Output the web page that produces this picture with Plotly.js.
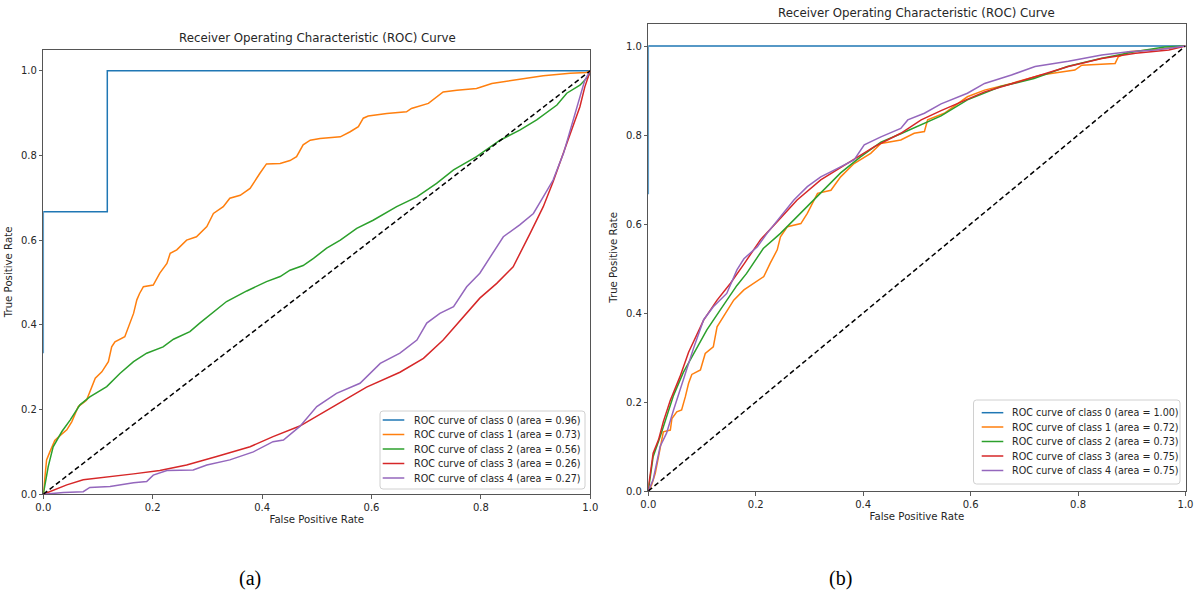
<!DOCTYPE html>
<html>
<head>
<meta charset="utf-8">
<script src="https://cdn.plot.ly/plotly-3.0.1.min.js"></script>
<style>
  html, body { margin: 0; padding: 0; background: #fff; }
  #chart { width: 1200px; height: 603px; }
</style>
</head>
<body>
<div id="chart"></div>
<script>
// ---------- Panel (a): ROC curves per class ----------
const fprA0 = [0, 0, 0.117, 0.117, 1];
const tprA0 = [0.333, 0.667, 0.667, 1, 1];

const fprA1 = [0, 0.006, 0.012, 0.021, 0.031, 0.043, 0.052, 0.064, 0.079, 0.095, 0.107, 0.119, 0.125, 0.131, 0.149, 0.155, 0.165, 0.171, 0.176, 0.183, 0.201, 0.213, 0.226, 0.232, 0.244, 0.262, 0.280, 0.299, 0.311, 0.329, 0.341, 0.360, 0.378, 0.396, 0.408, 0.433, 0.451, 0.463, 0.475, 0.488, 0.506, 0.543, 0.561, 0.576, 0.585, 0.594, 0.628, 0.664, 0.673, 0.704, 0.719, 0.731, 0.756, 0.792, 0.820, 0.865, 0.914, 0.963, 0.993, 1];
const tprA1 = [0, 0.081, 0.100, 0.127, 0.139, 0.152, 0.171, 0.207, 0.222, 0.274, 0.289, 0.313, 0.348, 0.360, 0.372, 0.392, 0.427, 0.459, 0.474, 0.490, 0.494, 0.522, 0.545, 0.569, 0.577, 0.600, 0.608, 0.632, 0.663, 0.679, 0.699, 0.706, 0.722, 0.758, 0.780, 0.781, 0.788, 0.797, 0.825, 0.836, 0.840, 0.844, 0.856, 0.868, 0.888, 0.893, 0.899, 0.903, 0.911, 0.923, 0.939, 0.950, 0.954, 0.958, 0.970, 0.978, 0.988, 0.994, 0.996, 1];

const fprA2 = [0, 0.009, 0.018, 0.034, 0.049, 0.067, 0.085, 0.116, 0.140, 0.165, 0.189, 0.219, 0.238, 0.268, 0.286, 0.311, 0.335, 0.372, 0.408, 0.433, 0.451, 0.475, 0.494, 0.518, 0.543, 0.573, 0.603, 0.646, 0.683, 0.719, 0.750, 0.792, 0.835, 0.871, 0.902, 0.939, 0.957, 0.981, 0.996, 1];
const tprA2 = [0, 0.065, 0.112, 0.148, 0.175, 0.211, 0.230, 0.254, 0.285, 0.313, 0.333, 0.348, 0.366, 0.384, 0.404, 0.430, 0.455, 0.480, 0.502, 0.514, 0.529, 0.540, 0.557, 0.581, 0.600, 0.628, 0.647, 0.679, 0.702, 0.734, 0.766, 0.797, 0.836, 0.860, 0.884, 0.919, 0.947, 0.966, 0.986, 1];

const fprA3 = [0, 0.018, 0.043, 0.073, 0.122, 0.165, 0.213, 0.262, 0.317, 0.378, 0.420, 0.469, 0.530, 0.591, 0.652, 0.695, 0.731, 0.768, 0.798, 0.829, 0.859, 0.890, 0.914, 0.932, 0.951, 0.969, 0.981, 0.990, 1];
const tprA3 = [0, 0.010, 0.022, 0.034, 0.041, 0.048, 0.056, 0.069, 0.089, 0.112, 0.136, 0.161, 0.207, 0.253, 0.288, 0.321, 0.364, 0.419, 0.463, 0.498, 0.537, 0.616, 0.679, 0.738, 0.805, 0.868, 0.915, 0.962, 1];

const fprA4 = [0, 0.037, 0.073, 0.085, 0.122, 0.165, 0.189, 0.201, 0.226, 0.274, 0.299, 0.341, 0.384, 0.420, 0.439, 0.469, 0.500, 0.536, 0.579, 0.616, 0.652, 0.683, 0.701, 0.725, 0.750, 0.774, 0.798, 0.817, 0.841, 0.871, 0.896, 0.914, 0.932, 0.951, 0.969, 0.981, 0.990, 1];
const tprA4 = [0, 0.004, 0.006, 0.016, 0.018, 0.027, 0.030, 0.045, 0.056, 0.057, 0.069, 0.081, 0.100, 0.124, 0.128, 0.160, 0.207, 0.238, 0.262, 0.309, 0.333, 0.364, 0.404, 0.427, 0.443, 0.490, 0.522, 0.561, 0.608, 0.636, 0.663, 0.702, 0.742, 0.805, 0.884, 0.939, 0.978, 1];

// ---------- Panel (b): ROC curves per class ----------
const fprB0 = [0, 0, 1];
const tprB0 = [0.667, 1, 1];

const fprB1 = [0, 0.006, 0.013, 0.022, 0.028, 0.041, 0.044, 0.053, 0.062, 0.069, 0.075, 0.081, 0.097, 0.106, 0.121, 0.128, 0.140, 0.159, 0.178, 0.196, 0.215, 0.227, 0.240, 0.246, 0.259, 0.284, 0.296, 0.315, 0.340, 0.358, 0.383, 0.414, 0.433, 0.470, 0.495, 0.514, 0.520, 0.551, 0.594, 0.626, 0.676, 0.731, 0.794, 0.807, 0.869, 0.875, 0.894, 0.950, 1];
const tprB1 = [0, 0.013, 0.040, 0.100, 0.133, 0.137, 0.163, 0.178, 0.182, 0.212, 0.242, 0.262, 0.272, 0.309, 0.324, 0.369, 0.392, 0.429, 0.452, 0.467, 0.482, 0.512, 0.542, 0.571, 0.594, 0.601, 0.624, 0.669, 0.676, 0.706, 0.736, 0.759, 0.781, 0.789, 0.804, 0.808, 0.834, 0.849, 0.886, 0.901, 0.916, 0.935, 0.946, 0.957, 0.961, 0.976, 0.987, 0.993, 1];

const fprB2 = [0, 0.009, 0.022, 0.034, 0.047, 0.065, 0.090, 0.109, 0.134, 0.165, 0.183, 0.214, 0.246, 0.283, 0.321, 0.358, 0.395, 0.433, 0.470, 0.520, 0.545, 0.594, 0.656, 0.718, 0.780, 0.842, 0.905, 0.961, 1];
const tprB2 = [0, 0.077, 0.122, 0.167, 0.215, 0.266, 0.320, 0.362, 0.407, 0.462, 0.489, 0.545, 0.579, 0.624, 0.669, 0.715, 0.751, 0.784, 0.803, 0.830, 0.843, 0.879, 0.909, 0.927, 0.954, 0.972, 0.987, 0.998, 1];

const fprB3 = [0, 0, 0.003, 0.009, 0.019, 0.028, 0.041, 0.059, 0.075, 0.103, 0.128, 0.153, 0.178, 0.209, 0.240, 0.277, 0.321, 0.371, 0.421, 0.470, 0.508, 0.545, 0.626, 0.720, 0.782, 0.844, 0.907, 0.969, 1];
const tprB3 = [0, 0.010, 0.032, 0.085, 0.115, 0.156, 0.204, 0.257, 0.312, 0.384, 0.429, 0.467, 0.510, 0.565, 0.605, 0.654, 0.699, 0.736, 0.774, 0.804, 0.834, 0.855, 0.897, 0.931, 0.954, 0.972, 0.984, 0.991, 1];

const fprB4 = [0, 0.009, 0.022, 0.034, 0.047, 0.059, 0.072, 0.084, 0.103, 0.121, 0.146, 0.165, 0.178, 0.203, 0.221, 0.246, 0.271, 0.296, 0.321, 0.346, 0.383, 0.402, 0.433, 0.470, 0.483, 0.514, 0.545, 0.594, 0.626, 0.676, 0.720, 0.782, 0.844, 0.894, 0.944, 1];
const tprB4 = [0, 0.025, 0.100, 0.130, 0.182, 0.227, 0.279, 0.320, 0.385, 0.414, 0.444, 0.497, 0.522, 0.549, 0.579, 0.616, 0.654, 0.684, 0.706, 0.721, 0.744, 0.778, 0.796, 0.815, 0.834, 0.849, 0.870, 0.894, 0.916, 0.935, 0.954, 0.966, 0.980, 0.987, 0.991, 1];

// Chance line
const chanceX = [0, 1];
const chanceY = [0, 1];

// Class names and AUC values shown in the legends
const classIds = [0, 1, 2, 3, 4];
const aucA = ['0.96', '0.73', '0.56', '0.26', '0.27'];
const aucB = ['1.00', '0.72', '0.73', '0.75', '0.75'];
const classColors = ['#1f77b4', '#ff7f0e', '#2ca02c', '#d62728', '#9467bd'];

const titleText = 'Receiver Operating Characteristic (ROC) Curve';
const panelLabels = ['(a)', '(b)'];

// ---------- Layout helpers (pixel -> paper) ----------
const W = 1200, H = 603;
const px = x => x / W;
const py = y => 1 - y / H;

const FONT = 'DejaVu Sans, sans-serif';
const TXT = '#262626';

const panelA = { fpr: [fprA0, fprA1, fprA2, fprA3, fprA4], tpr: [tprA0, tprA1, tprA2, tprA3, tprA4], auc: aucA, xa: 'x', ya: 'y' };
const panelB = { fpr: [fprB0, fprB1, fprB2, fprB3, fprB4], tpr: [tprB0, tprB1, tprB2, tprB3, tprB4], auc: aucB, xa: 'x2', ya: 'y2' };

const traces = [];
[panelA, panelB].forEach(p => {
  classIds.forEach(i => {
    traces.push({
      type: 'scatter', mode: 'lines',
      x: p.fpr[i], y: p.tpr[i],
      xaxis: p.xa, yaxis: p.ya,
      name: 'ROC curve of class ' + i + ' (area = ' + p.auc[i] + ')',
      line: { color: classColors[i], width: 1.5 },
      showlegend: false, hoverinfo: 'skip'
    });
  });
  traces.push({
    type: 'scatter', mode: 'lines',
    x: chanceX, y: chanceY, xaxis: p.xa, yaxis: p.ya,
    line: { color: '#000', width: 1.5, dash: '5px,3px' },
    showlegend: false, hoverinfo: 'skip'
  });
});

function axisStyle(domain, isY, titleTxt, standoff) {
  return {
    domain: domain,
    range: isY ? [0, 1.05] : [0, 1],
    tickvals: [0, 0.2, 0.4, 0.6, 0.8, 1.0],
    ticktext: ['0.0', '0.2', '0.4', '0.6', '0.8', '1.0'],
    ticks: 'outside', ticklen: 3.5, tickwidth: 0.8, tickcolor: '#333',
    tickfont: { family: FONT, size: 10, color: TXT },
    showline: true, mirror: true, linecolor: '#555', linewidth: 1,
    showgrid: false, zeroline: false, layer: 'below traces',
    fixedrange: true,
    title: { text: titleTxt, font: { family: FONT, size: 10.2, color: TXT }, standoff: standoff }
  };
}

const layout = {
  width: W, height: H,
  margin: { l: 0, r: 0, t: 0, b: 0 },
  paper_bgcolor: '#fff', plot_bgcolor: '#fff',
  showlegend: false,
  xaxis: Object.assign(axisStyle([px(43.3), px(590.3)], false, 'False Positive Rate', 4), { anchor: 'y' }),
  yaxis: Object.assign(axisStyle([py(494.2), py(49.6)], true, 'True Positive Rate', 6), { anchor: 'x' }),
  xaxis2: Object.assign(axisStyle([px(648.3), px(1185.5)], false, 'False Positive Rate', 4), { anchor: 'y2' }),
  yaxis2: Object.assign(axisStyle([py(491), py(23.8)], true, 'True Positive Rate', 6), { anchor: 'x2' }),
  shapes: [],
  annotations: []
};

// Panel titles and captions
[[317, 38.3], [916.7, 13.3]].forEach((pos, k) => {
  layout.annotations.push({
    xref: 'paper', yref: 'paper', x: px(pos[0]), y: py(pos[1]),
    xanchor: 'center', yanchor: 'middle', showarrow: false,
    text: titleText, font: { family: FONT, size: 11.8, color: TXT }
  });
});
[[250, 578], [840, 578]].forEach((pos, k) => {
  layout.annotations.push({
    xref: 'paper', yref: 'paper', x: px(pos[0]), y: py(pos[1]),
    xanchor: 'center', yanchor: 'middle', showarrow: false,
    text: panelLabels[k], font: { family: 'Liberation Serif, Times New Roman, serif', size: 20, color: '#000' }
  });
});

// Legend boxes built from the class names / AUC arrays
function roundedBox(x0, y0, x1, y1, r) {
  const rx = r / W, ry = r / H;
  const X0 = px(x0), X1 = px(x1), Y0 = py(y0), Y1 = py(y1);
  return 'M' + (X0 + rx) + ',' + Y0 + ' L' + (X1 - rx) + ',' + Y0 +
    ' Q' + X1 + ',' + Y0 + ' ' + X1 + ',' + (Y0 - ry) +
    ' L' + X1 + ',' + (Y1 + ry) + ' Q' + X1 + ',' + Y1 + ' ' + (X1 - rx) + ',' + Y1 +
    ' L' + (X0 + rx) + ',' + Y1 + ' Q' + X0 + ',' + Y1 + ' ' + X0 + ',' + (Y1 + ry) +
    ' L' + X0 + ',' + (Y0 - ry) + ' Q' + X0 + ',' + Y0 + ' ' + (X0 + rx) + ',' + Y0 + ' Z';
}

const legends = [
  { box: [380, 411, 585, 489], lx: [382.7, 404.3], tx: 411.7, rows: [420, 434.5, 449, 463.5, 478], auc: aucA },
  { box: [973.5, 400, 1180, 484], lx: [981.7, 1003.3], tx: 1010, rows: [412.7, 427, 441.5, 456, 470.5], auc: aucB }
];
legends.forEach(lg => {
  layout.shapes.push({
    type: 'path', xref: 'paper', yref: 'paper',
    path: roundedBox(lg.box[0], lg.box[1], lg.box[2], lg.box[3], 3),
    fillcolor: 'rgba(255,255,255,0.85)', line: { color: '#d0d0d0', width: 1 }, layer: 'above'
  });
  classIds.forEach(i => {
    layout.shapes.push({
      type: 'line', xref: 'paper', yref: 'paper',
      x0: px(lg.lx[0]), x1: px(lg.lx[1]), y0: py(lg.rows[i]), y1: py(lg.rows[i]),
      line: { color: classColors[i], width: 1.5 }, layer: 'above'
    });
    layout.annotations.push({
      xref: 'paper', yref: 'paper', x: px(lg.tx), y: py(lg.rows[i]),
      xanchor: 'left', yanchor: 'middle', showarrow: false,
      text: 'ROC curve of class ' + i + ' (area = ' + lg.auc[i] + ')',
      font: { family: FONT, size: 9.6, color: TXT }
    });
  });
});

Plotly.newPlot('chart', traces, layout, { staticPlot: true, displayModeBar: false });
</script>
</body>
</html>
